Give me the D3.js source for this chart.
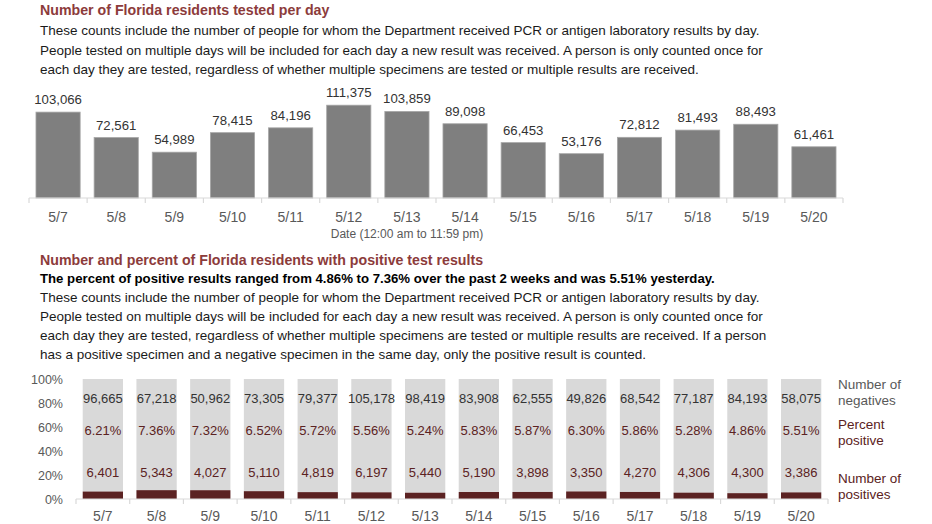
<!DOCTYPE html>
<html>
<head>
<meta charset="utf-8">
<script src="https://cdn.jsdelivr.net/npm/d3@7"></script>
<style>
  body { margin: 0; background: #fff; }
  svg { display: block; font-family: "Liberation Sans", Arial, sans-serif; }
</style>
</head>
<body>
<svg id="chart" width="932" height="524"></svg>
<script>
'use strict';

var dates = ['5/7', '5/8', '5/9', '5/10', '5/11', '5/12', '5/13', '5/14', '5/15', '5/16', '5/17', '5/18', '5/19', '5/20'];
var tested = [103066, 72561, 54989, 78415, 84196, 111375, 103859, 89098, 66453, 53176, 72812, 81493, 88493, 61461];
var negatives = [96665, 67218, 50962, 73305, 79377, 105178, 98419, 83908, 62555, 49826, 68542, 77187, 84193, 58075];
var positives = [6401, 5343, 4027, 5110, 4819, 6197, 5440, 5190, 3898, 3350, 4270, 4306, 4300, 3386];
var percents = ['6.21%', '7.36%', '7.32%', '6.52%', '5.72%', '5.56%', '5.24%', '5.83%', '5.87%', '6.30%', '5.86%', '5.28%', '4.86%', '5.51%'];
var pctTicks = [0, 0.2, 0.4, 0.6, 0.8, 1];

var title1 = 'Number of Florida residents tested per day';
var text1 = [
	'These counts include the number of people for whom the Department received PCR or antigen laboratory results by day.',
	'People tested on multiple days will be included for each day a new result was received. A person is only counted once for',
	'each day they are tested, regardless of whether multiple specimens are tested or multiple results are received.'
];
var title2 = 'Number and percent of Florida residents with positive test results';
var bold2 = 'The percent of positive results ranged from 4.86% to 7.36% over the past 2 weeks and was 5.51% yesterday.';
var text2 = [
	'These counts include the number of people for whom the Department received PCR or antigen laboratory results by day.',
	'People tested on multiple days will be included for each day a new result was received. A person is only counted once for',
	'each day they are tested, regardless of whether multiple specimens are tested or multiple results are received. If a person',
	'has a positive specimen and a negative specimen in the same day, only the positive result is counted.'
];

var red = '#8c3b3b';
var brown = '#5b2222';
var grey = '#595959';
var fmt = d3.format(',');

var svg = d3.select('#chart');

var addText = function(lines, y0, dy, opts) {
	svg.selectAll(null)
		.data(lines)
		.enter()
		.append('text')
		.attr('x', 40)
		.attr('y', function(d, i) { return y0 + i * dy; })
		.attr('font-size', opts.size)
		.attr('font-weight', opts.weight || 'normal')
		.attr('fill', opts.color)
		.text(function(d) { return d; });
};

// headers
addText([title1], 15, 0, {size: 14.2, weight: 'bold', color: red});
addText(text1, 35, 19.5, {size: 13.5, color: '#1a1a1a'});
addText([title2], 265, 0, {size: 14.2, weight: 'bold', color: red});
addText([bold2], 283, 0, {size: 13.2, weight: 'bold', color: '#000'});
addText(text2, 302, 19, {size: 13.5, color: '#1a1a1a'});

// ---- top chart: tested per day
var x1 = d3.scaleBand().domain(dates).range([29, 843]).paddingInner(0.24).paddingOuter(0.12);
var y1 = d3.scaleLinear().domain([0, 120000]).range([198, 98]);

var upper = svg.append('g');
upper.selectAll('rect')
	.data(tested)
	.enter()
	.append('rect')
	.attr('x', function(d, i) { return x1(dates[i]); })
	.attr('y', function(d) { return y1(d); })
	.attr('width', x1.bandwidth())
	.attr('height', function(d) { return y1(0) - y1(d); })
	.attr('fill', '#7f7f7f')
	.attr('stroke', '#a6a6a6')
	.attr('stroke-width', 0.8);

upper.selectAll('text.val')
	.data(tested)
	.enter()
	.append('text')
	.attr('class', 'val')
	.attr('x', function(d, i) { return x1(dates[i]) + x1.bandwidth() / 2; })
	.attr('y', function(d) { return y1(d) - 8; })
	.attr('text-anchor', 'middle')
	.attr('font-size', 13.2)
	.attr('fill', '#333')
	.text(function(d) { return fmt(d); });

var drawAxis = function(x, y0, labelY) {
	var g = svg.append('g');
	var r = x.range();
	g.append('line')
		.attr('x1', r[0]).attr('x2', r[1])
		.attr('y1', y0).attr('y2', y0)
		.attr('stroke', '#d9d9d9').attr('stroke-width', 1.2);
	var bounds = d3.range(dates.length + 1).map(function(i) { return r[0] + i * x.step(); });
	g.selectAll('line.tick')
		.data(bounds)
		.enter()
		.append('line')
		.attr('class', 'tick')
		.attr('x1', function(d) { return d; }).attr('x2', function(d) { return d; })
		.attr('y1', y0).attr('y2', y0 + 5)
		.attr('stroke', '#d9d9d9').attr('stroke-width', 1.2);
	g.selectAll('text')
		.data(dates)
		.enter()
		.append('text')
		.attr('x', function(d) { return x(d) + x.bandwidth() / 2; })
		.attr('y', labelY)
		.attr('text-anchor', 'middle')
		.attr('font-size', 14)
		.attr('fill', grey)
		.text(function(d) { return d; });
};

drawAxis(x1, 198, 222);

svg.append('text')
	.attr('x', 407)
	.attr('y', 238)
	.attr('text-anchor', 'middle')
	.attr('font-size', 12)
	.attr('fill', grey)
	.text('Date (12:00 am to 11:59 pm)');

// ---- bottom chart: positives stacked within total
var x2 = d3.scaleBand().domain(dates).range([76, 828]).paddingInner(0.25).paddingOuter(0.125);
var y2 = d3.scaleLinear().domain([0, 1]).range([499, 379]);

var lower = svg.append('g');
lower.selectAll('text.ytick')
	.data(pctTicks)
	.enter()
	.append('text')
	.attr('class', 'ytick')
	.attr('x', 63)
	.attr('y', function(d) { return y2(d) + 4.5; })
	.attr('text-anchor', 'end')
	.attr('font-size', 12.5)
	.attr('fill', grey)
	.text(function(d) { return Math.round(d * 100) + '%'; });

var shares = positives.map(function(p, i) { return p / (p + negatives[i]); });

lower.selectAll('rect.neg')
	.data(shares)
	.enter()
	.append('rect')
	.attr('class', 'neg')
	.attr('x', function(d, i) { return x2(dates[i]); })
	.attr('y', y2(1))
	.attr('width', x2.bandwidth())
	.attr('height', function(d) { return y2(d) - y2(1); })
	.attr('fill', '#d9d9d9');

lower.selectAll('rect.pos')
	.data(shares)
	.enter()
	.append('rect')
	.attr('class', 'pos')
	.attr('x', function(d, i) { return x2(dates[i]); })
	.attr('y', function(d) { return y2(d); })
	.attr('width', x2.bandwidth())
	.attr('height', function(d) { return y2(0) - y2(d); })
	.attr('fill', brown);

var rowLabels = function(values, level, color) {
	lower.selectAll(null)
		.data(values)
		.enter()
		.append('text')
		.attr('x', function(d, i) { return x2(dates[i]) + x2.bandwidth() / 2; })
		.attr('y', y2(level) + 4.5)
		.attr('text-anchor', 'middle')
		.attr('font-size', 13)
		.attr('fill', color)
		.text(function(d) { return d; });
};
rowLabels(negatives.map(fmt), 0.84, '#333');
rowLabels(percents, 0.575, brown);
rowLabels(positives.map(fmt), 0.225, brown);

drawAxis(x2, 499, 521);

// legend
var legend = [
	{lines: ['Number of', 'negatives'], y: 389, color: grey},
	{lines: ['Percent', 'positive'], y: 429, color: brown},
	{lines: ['Number of', 'positives'], y: 483, color: brown}
];
legend.forEach(function(l) {
	svg.selectAll(null)
		.data(l.lines)
		.enter()
		.append('text')
		.attr('x', 838)
		.attr('y', function(d, i) { return l.y + i * 16; })
		.attr('font-size', 13.5)
		.attr('fill', l.color)
		.text(function(d) { return d; });
});
</script>
</body>
</html>
